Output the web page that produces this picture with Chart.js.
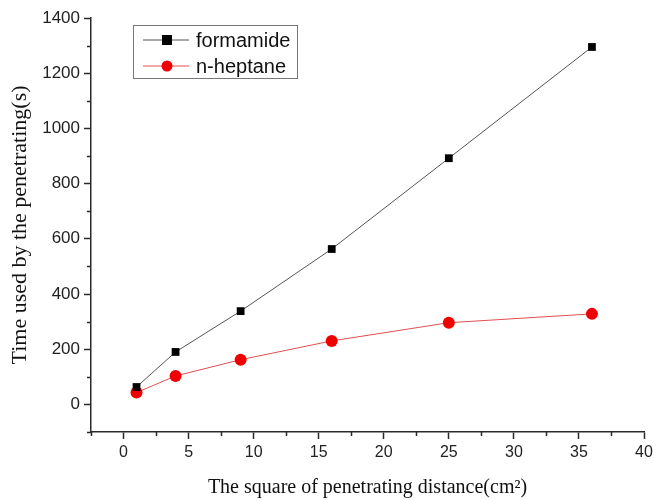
<!DOCTYPE html>
<html>
<head>
<meta charset="utf-8">
<script src="https://cdn.jsdelivr.net/npm/chart.js@4/dist/chart.umd.min.js"></script>
<style>
	html, body { margin: 0; padding: 0; background: #fff; }
	#wrap { width: 654px; height: 500px; }
</style>
</head>
<body>
<div id="wrap"><canvas id="chart"></canvas></div>
<script>
(function () {
	'use strict';

	// data
	const xValues = [1, 4, 9, 16, 25, 36];
	const formamide = [63, 190, 338, 563, 892, 1295];
	const heptane = [43, 103, 162, 230, 296, 328];
	const xTicks = [0, 5, 10, 15, 20, 25, 30, 35, 40];
	const yTicks = [0, 200, 400, 600, 800, 1000, 1200, 1400];
	const xMinor = [-2.5, 2.5, 7.5, 12.5, 17.5, 22.5, 27.5, 32.5, 37.5];
	const yMinor = [-100, 100, 300, 500, 700, 900, 1100, 1300];

	const toPoints = function(ys) {
		return xValues.map(function(x, i) { return { x: x, y: ys[i] }; });
	};

	const axisColor = '#2a2a2a';
	const sans = "'Liberation Sans', Arial, sans-serif";
	const serif = "'Liberation Serif', 'Times New Roman', serif";

	// short minor ticks outside the axes
	const minorTicks = {
		id: 'minorTicks',
		afterDraw(chart) {
			const c = chart.ctx;
			const xs = chart.scales.x, ys = chart.scales.y;
			const area = chart.chartArea;
			c.save();
			c.strokeStyle = axisColor;
			c.lineWidth = 1.5;
			c.beginPath();
			xMinor.forEach(function(v) {
				const px = Math.round(xs.getPixelForValue(v)) + 0.5;
				c.moveTo(px, area.bottom);
				c.lineTo(px, area.bottom + 4);
			});
			yMinor.forEach(function(v) {
				const py = Math.round(ys.getPixelForValue(v)) + 0.5;
				c.moveTo(area.left, py);
				c.lineTo(area.left - 4, py);
			});
			c.stroke();
			c.restore();
		}
	};

	// framed legend inside the plot, top left
	const boxLegend = {
		id: 'boxLegend',
		afterDraw(chart) {
			const c = chart.ctx;
			const x0 = 133, y0 = 25, w = 164, h = 53;
			c.save();
			c.fillStyle = '#fff';
			c.fillRect(x0, y0, w, h);
			c.strokeStyle = '#777';
			c.lineWidth = 1;
			c.strokeRect(x0 + 0.5, y0 + 0.5, w, h);
			chart.data.datasets.forEach(function(ds, i) {
				const ly = y0 + 15 + i * 26;
				c.strokeStyle = ds.borderColor;
				c.lineWidth = 1;
				c.beginPath();
				c.moveTo(x0 + 10, ly);
				c.lineTo(x0 + 56, ly);
				c.stroke();
				c.fillStyle = ds.pointBackgroundColor;
				if (ds.pointStyle === 'rect') {
					c.fillRect(x0 + 29, ly - 5, 10, 10);
				} else {
					c.beginPath();
					c.arc(x0 + 34, ly, 5.5, 0, Math.PI * 2);
					c.fill();
				}
				c.fillStyle = '#111';
				c.font = '20px ' + sans;
				c.textBaseline = 'middle';
				c.fillText(ds.label, x0 + 63, ly + 1);
			});
			c.restore();
		}
	};

	new Chart(document.getElementById('chart'), {
		type: 'scatter',
		data: {
			datasets: [
				{
					label: 'formamide',
					data: toPoints(formamide),
					showLine: true,
					borderColor: '#555',
					borderWidth: 1,
					pointStyle: 'rect',
					pointRadius: 5.5,
					pointBackgroundColor: '#000',
					pointBorderColor: '#000',
					pointBorderWidth: 0
				},
				{
					label: 'n-heptane',
					data: toPoints(heptane),
					showLine: true,
					borderColor: '#e05050',
					borderWidth: 1,
					pointStyle: 'circle',
					pointRadius: 6,
					pointBackgroundColor: '#f00000',
					pointBorderColor: '#f00000',
					pointBorderWidth: 0
				}
			]
		},
		options: {
			responsive: true,
			maintainAspectRatio: false,
			animation: false,
			layout: { padding: { top: 18, right: 10, left: 0, bottom: 0 } },
			plugins: {
				legend: { display: false },
				tooltip: { enabled: false }
			},
			scales: {
				x: {
					type: 'linear',
					min: -2.5,
					max: 40,
					afterBuildTicks: function(scale) {
						scale.ticks = xTicks.map(function(v) { return { value: v }; });
					},
					afterFit: function(scale) {
						scale.height = 68;
						scale.paddingLeft = 0;
						scale.paddingRight = 0;
					},
					border: { display: true, color: axisColor, width: 1.5 },
					grid: {
						drawOnChartArea: false,
						drawTicks: true,
						tickLength: 7,
						tickWidth: 1.5,
						tickColor: axisColor
					},
					ticks: {
						font: { family: sans, size: 16 },
						color: '#222',
						padding: 4,
						maxRotation: 0,
						callback: function(v) { return String(v); }
					},
					title: {
						display: true,
						text: 'The square of penetrating distance(cm²)',
						font: { family: serif, size: 20 },
						color: '#111',
						padding: { top: 12, bottom: 0 }
					}
				},
				y: {
					type: 'linear',
					min: -100,
					max: 1400,
					afterBuildTicks: function(scale) {
						scale.ticks = yTicks.map(function(v) { return { value: v }; });
					},
					afterFit: function(scale) {
						scale.width = 91;
						scale.paddingTop = 0;
						scale.paddingBottom = 0;
					},
					border: { display: true, color: axisColor, width: 1.5 },
					grid: {
						drawOnChartArea: false,
						drawTicks: true,
						tickLength: 7,
						tickWidth: 1.5,
						tickColor: axisColor
					},
					ticks: {
						font: { family: sans, size: 17 },
						color: '#222',
						padding: 4,
						callback: function(v) { return String(v); }
					},
					title: {
						display: true,
						text: 'Time used by the penetrating(s)',
						font: { family: serif, size: 22 },
						color: '#111',
						padding: { top: 7, bottom: 0 }
					}
				}
			}
		},
		plugins: [minorTicks, boxLegend]
	});
})();
</script>
</body>
</html>
